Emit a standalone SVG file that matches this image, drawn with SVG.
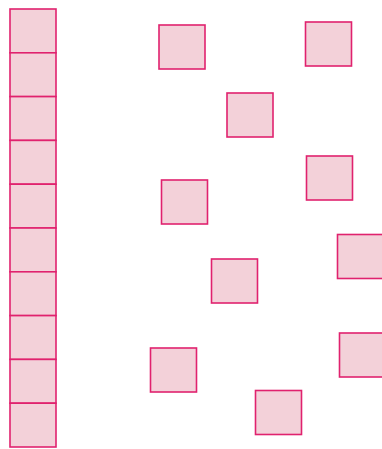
<svg xmlns="http://www.w3.org/2000/svg" width="382" height="449" viewBox="0 0 382 449">
<style>
.b{fill:#f3d1d9;stroke:#e0226e;stroke-width:1.6}
</style>
<rect width="382" height="449" fill="#ffffff"/>
<g id="column">
<rect class="b" x="10" y="9" width="46" height="43.8"/>
<rect class="b" x="10" y="52.8" width="46" height="43.8"/>
<rect class="b" x="10" y="96.6" width="46" height="43.8"/>
<rect class="b" x="10" y="140.4" width="46" height="43.8"/>
<rect class="b" x="10" y="184.2" width="46" height="43.8"/>
<rect class="b" x="10" y="228" width="46" height="43.8"/>
<rect class="b" x="10" y="271.8" width="46" height="43.8"/>
<rect class="b" x="10" y="315.6" width="46" height="43.8"/>
<rect class="b" x="10" y="359.4" width="46" height="43.8"/>
<rect class="b" x="10" y="403.2" width="46" height="43.8"/>
</g>
<g id="sq1"><rect class="b" x="159" y="25" width="46" height="44"/></g>
<g id="sq2"><rect class="b" x="305.5" y="22" width="46" height="44"/></g>
<g id="sq3"><rect class="b" x="227" y="93" width="46" height="44"/></g>
<g id="sq4"><rect class="b" x="161.5" y="180" width="46" height="44"/></g>
<g id="sq5"><rect class="b" x="306.5" y="156" width="46" height="44"/></g>
<g id="sq6"><rect class="b" x="337.5" y="234.5" width="46" height="44"/></g>
<g id="sq7"><rect class="b" x="211.5" y="259" width="46" height="44"/></g>
<g id="sq8"><rect class="b" x="150.5" y="348" width="46" height="44"/></g>
<g id="sq9"><rect class="b" x="255.5" y="390.5" width="46" height="44"/></g>
<g id="sq10"><rect class="b" x="339.5" y="333" width="46" height="44"/></g>
</svg>
